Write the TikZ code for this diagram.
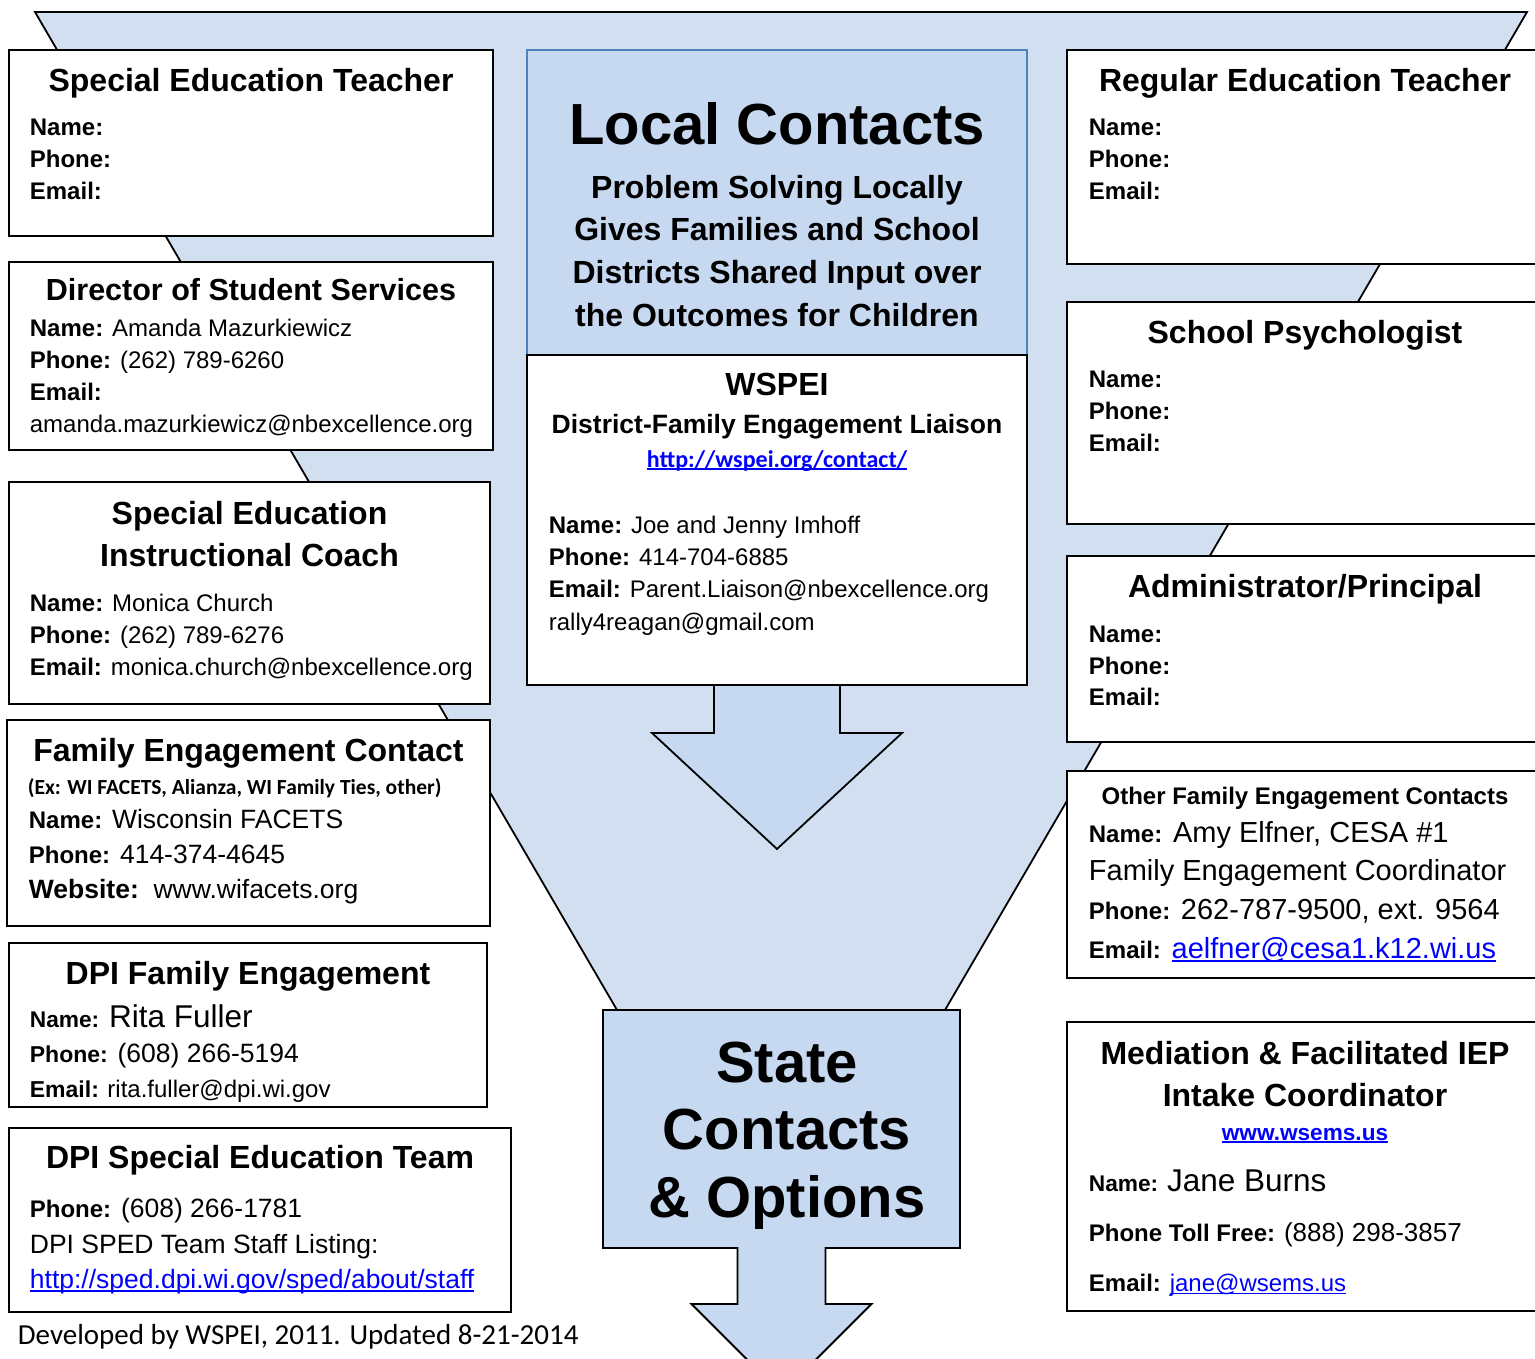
\documentclass[tikz,border=0pt]{standalone}
\usepackage{fontspec}
\setmainfont{Liberation Sans}
\newfontfamily\calfont{Carlito}
\usetikzlibrary{calc,positioning}
\definecolor{funnel}{RGB}{209,223,241}
\definecolor{lightbox}{RGB}{198,217,241}
\definecolor{edgeblue}{RGB}{79,129,189}
\definecolor{linkblue}{RGB}{0,0,255}
\newcommand{\fsz}[1]{\fontsize{#1}{#1}\selectfont}
\newcommand{\lnk}[1]{\textcolor{linkblue}{\setbox0\hbox{#1}\rlap{\rule[-0.12em]{\wd0}{0.07em}}\box0}}

\begin{document}
\begin{tikzpicture}[x=1pt,y=-1pt,line width=1.8pt,
  card/.style={draw,fill=white,anchor=north west,inner sep=0pt,outer sep=0pt},
  ttl/.style={anchor=base,inner sep=0pt,font=\bfseries\fsz{32}},
  ttls/.style={anchor=north,inner sep=0pt,align=center,font=\bfseries\fontsize{32}{42}\selectfont},
  body/.style={anchor=north west,inner sep=0pt,align=left,font=\fontsize{24}{32}\selectfont}]
    \useasboundingbox (0,0) rectangle (1535,1359);
    \clip (0,0) rectangle (1535,1359);
    \fill[white] (0,0) rectangle (1535,1359);

    \draw[fill=funnel] (35,12) -- (1527,12) -- (945,1010) -- (617,1010) -- cycle;

    % left column
    \node[card,minimum width=484,minimum height=186] (spedteacher) at (9,50) {};
    \node[card,minimum width=484,minimum height=188] (director) at (9,262) {};
    \node[card,minimum width=481,minimum height=222] (coach) at (9,482) {};
    \node[card,minimum width=483,minimum height=206] (famcontact) at (7,720) {};
    \node[card,minimum width=478,minimum height=164] (dpifamily) at (9,943) {};
    \node[card,minimum width=502,minimum height=184] (dpiteam) at (9,1128) {};

    \node[ttl] (spedteacher-t) at (251,91.5) {Special Education Teacher};
    \node[body] (spedteacher-b) at (29,118) {\textbf{Name:}\\\textbf{Phone:}\\\textbf{Email:}};

    \node[ttl,font=\bfseries\fsz{30.5}] (director-t) at (251,301) {Director of Student Services};
    \node[body] (director-b) at (29,318) {\textbf{Name:} Amanda Mazurkiewicz\\\textbf{Phone:} (262) 789-6260\\\textbf{Email:}\\amanda.mazurkiewicz@nbexcellence.org};

    \node[ttls] (coach-t) at (249.5,500) {Special Education\\Instructional Coach};
    \node[body] (coach-b) at (29,593) {\textbf{Name:} Monica Church\\\textbf{Phone:} (262) 789-6276\\\textbf{Email:} monica.church@nbexcellence.org};

    \node[ttl] (famcontact-t) at (248.5,761.5) {Family Engagement Contact};
    \node[anchor=base west,inner sep=0pt,font=\calfont\bfseries\fsz{21.5}] (famcontact-ex) at (27,794) {(Ex: WI FACETS, Alianza, WI Family Ties, other)};
    \node[body,font=\fontsize{26.5}{35}\selectfont] (famcontact-b) at (28,808.7) {{\fsz{24}\textbf{Name:}} Wisconsin FACETS\\{\fsz{24}\textbf{Phone:}} 414-374-4645\\\textbf{Website:}\ \ www.wifacets.org};

    \node[ttl] (dpifamily-t) at (248,984.5) {DPI Family Engagement};
    \node[body,font=\fontsize{26.5}{35}\selectfont] (dpifamily-b) at (29,1004) {{\fsz{22.7}\textbf{Name:}} {\fsz{31.5}Rita Fuller}\\{\fsz{23}\textbf{Phone:}} (608) 266-5194\\{\fsz{23}\textbf{Email:} \fsz{24}rita.fuller@dpi.wi.gov}};

    \node[ttl] (dpiteam-t) at (260,1168.5) {DPI Special Education Team};
    \node[body,font=\fontsize{26.5}{35.3}\selectfont] (dpiteam-b) at (29,1197.7) {{\fsz{24}\textbf{Phone:}} (608) 266-1781\\DPI SPED Team Staff Listing:\\\lnk{http://sped.dpi.wi.gov/sped/about/staff}};

    \node[anchor=base west,inner sep=0pt,font=\calfont\fsz{29}] (footer) at (17,1344) {Developed by WSPEI, 2011. Updated 8-21-2014};

    % centre column
    \node[card,fill=lightbox,draw=edgeblue,minimum width=500,minimum height=305] (local) at (527,50) {};
    \node[card,minimum width=500,minimum height=330] (wspei) at (527,355) {};
    \draw[fill=lightbox] ($(wspei.south)+(-63,0)$) -- ++(0,48) -- ++(-62,0) -- ($(wspei.south)+(0,164)$) -- ++(125,-116) -- ++(-62,0) -- ++(0,-48);
    \draw (wspei.south west) -- (wspei.south east);
    \node[card,fill=lightbox,minimum width=357,minimum height=238] (state) at (603,1010) {};
    \draw[fill=lightbox] ($(state.south)+(-44,-1)$) -- ++(0,57) -- ++(-46,0) -- ($(state.south)+(0,146)$) -- ++(90,-90) -- ++(-46,0) -- ++(0,-57);

    \node[anchor=base,inner sep=0pt,font=\bfseries\fsz{58}] (local-t) at (777,145) {Local Contacts};
    \node[ttls,font=\bfseries\fontsize{32}{42.7}\selectfont] (local-s) at (777,174) {Problem Solving Locally\\Gives Families and School\\Districts Shared Input over\\the Outcomes for Children};

    \node[ttl] (wspei-t) at (777,395.5) {WSPEI};
    \node[anchor=base,inner sep=0pt,font=\bfseries\fsz{26.5}] (wspei-s) at (777,433.5) {District-Family Engagement Liaison};
    \node[anchor=base,inner sep=0pt,font=\calfont\bfseries\fsz{24}] (wspei-l) at (777,467) {\lnk{http://wspei.org/contact/}};
    \node[body,font=\fontsize{24}{32.3}\selectfont] (wspei-b) at (548,515) {\textbf{Name:} Joe and Jenny Imhoff\\\textbf{Phone:} 414-704-6885\\\textbf{Email:} Parent.Liaison@nbexcellence.org\\rally4reagan@gmail.com};

    \node[ttls,font=\bfseries\fontsize{58}{67.5}\selectfont] (state-t) at (787,1040.7) {State\\Contacts\\\& Options};

    % right column
    \node[card,minimum width=476,minimum height=214] (regteacher) at (1067,50) {};
    \node[card,minimum width=476,minimum height=222] (psych) at (1067,302) {};
    \node[card,minimum width=476,minimum height=186] (principal) at (1067,556) {};
    \node[card,minimum width=476,minimum height=207] (otherfam) at (1067,771) {};
    \node[card,minimum width=476,minimum height=289] (mediation) at (1067,1022) {};

    \node[ttl] (regteacher-t) at (1305,91.5) {Regular Education Teacher};
    \node[body] (regteacher-b) at (1088,118) {\textbf{Name:}\\\textbf{Phone:}\\\textbf{Email:}};

    \node[ttl] (psych-t) at (1305,343.5) {School Psychologist};
    \node[body] (psych-b) at (1088,370) {\textbf{Name:}\\\textbf{Phone:}\\\textbf{Email:}};

    \node[ttl] (principal-t) at (1305,597.5) {Administrator/Principal};
    \node[body,font=\fontsize{24}{31.7}\selectfont] (principal-b) at (1088,625) {\textbf{Name:}\\\textbf{Phone:}\\\textbf{Email:}};

    \node[anchor=base,inner sep=0pt,font=\bfseries\fsz{24}] (otherfam-t) at (1305,804.6) {Other Family Engagement Contacts};
    \node[body,font=\fontsize{29}{38.7}\selectfont] (otherfam-b) at (1088,820.2) {{\fsz{24}\textbf{Name:}} Amy Elfner, CESA \#1\\Family Engagement Coordinator\\{\fsz{24}\textbf{Phone:}} 262-787-9500, ext. 9564\\{\fsz{24}\textbf{Email:}} \lnk{aelfner@cesa1.k12.wi.us}};

    \node[ttls] (mediation-t) at (1305,1040) {Mediation \& Facilitated IEP\\Intake Coordinator};
    \node[anchor=base,inner sep=0pt,font=\bfseries\fsz{22.6}] (mediation-w) at (1305,1140) {\lnk{www.wsems.us}};
    \node[body,font=\fontsize{24}{50}\selectfont] (mediation-b) at (1088,1169) {{\fsz{22.7}\textbf{Name:}} {\fsz{31.5}Jane Burns}\\\textbf{Phone Toll Free:} {\fsz{26}(888) 298-3857}\\\textbf{Email:} \lnk{jane@wsems.us}};
\end{tikzpicture}
\end{document}
